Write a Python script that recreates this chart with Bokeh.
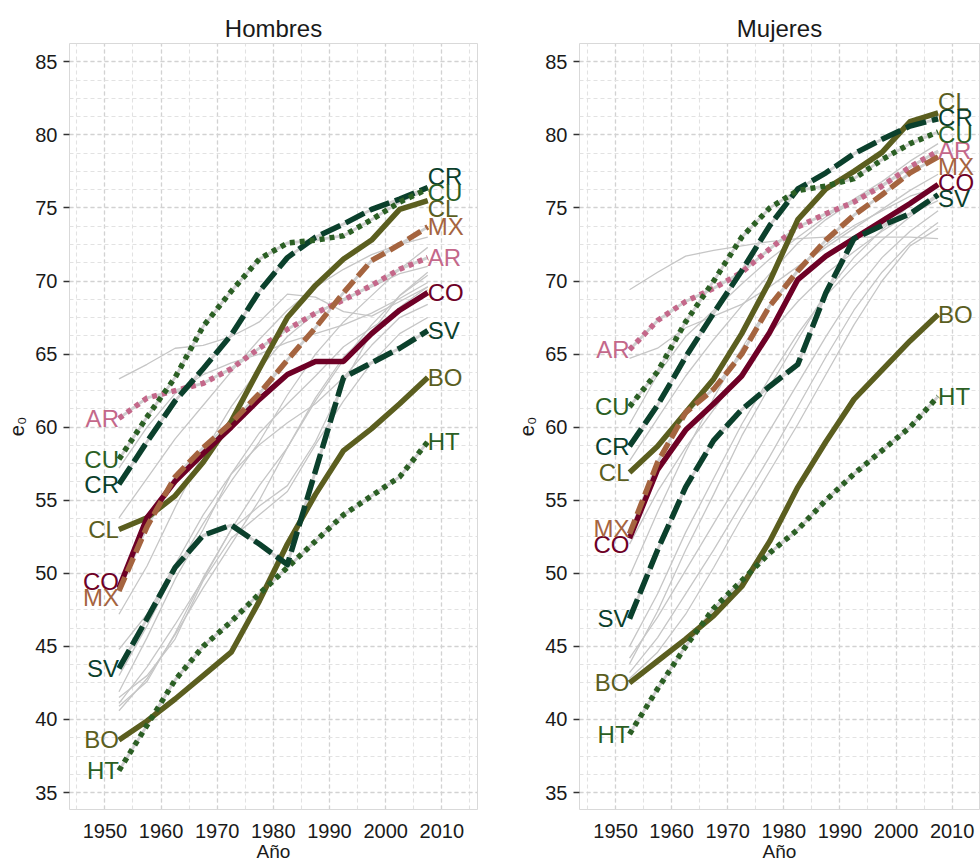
from bokeh.plotting import figure
from bokeh.layouts import row
from bokeh.models import Range1d, SingleIntervalTicker, ColumnDataSource
from bokeh.core.properties import value
from bokeh.embed import file_html
from bokeh.resources import INLINE

# ---------------- data ----------------
YEARS = [1952.5, 1957.5, 1962.5, 1967.5, 1972.5, 1977.5,
         1982.5, 1987.5, 1992.5, 1997.5, 2002.5, 2007.5]

PANELS = ["Hombres", "Mujeres"]
COUNTRIES = ["AR", "BO", "CL", "CO", "CR", "CU", "HT", "MX", "SV"]

# Hombres (men), e0 by period
H_AR = [60.6, 62.0, 62.5, 63.0, 64.0, 65.4, 66.7, 67.8, 68.7, 69.7, 70.8, 71.6]
H_BO = [38.6, 39.9, 41.4, 43.0, 44.6, 48.1, 52.0, 55.4, 58.4, 59.9, 61.6, 63.4]
H_CL = [53.0, 53.8, 55.3, 57.6, 60.4, 64.0, 67.5, 69.7, 71.5, 72.8, 74.9, 75.5]
H_CO = [49.0, 53.8, 56.3, 58.2, 60.0, 61.9, 63.6, 64.5, 64.5, 66.4, 68.0, 69.2]
H_CR = [56.1, 59.0, 61.8, 64.0, 66.3, 69.3, 71.6, 73.0, 73.9, 74.9, 75.6, 76.4]
H_CU = [57.8, 60.7, 63.4, 66.9, 69.3, 71.5, 72.6, 72.8, 73.1, 74.2, 75.4, 76.3]
H_HT = [36.5, 39.6, 42.7, 45.0, 46.7, 48.6, 50.4, 52.2, 54.0, 55.3, 56.6, 59.0]
H_MX = [48.8, 53.2, 56.6, 58.6, 60.3, 62.3, 64.6, 66.8, 69.2, 71.4, 72.5, 73.7]
H_SV = [43.5, 46.9, 50.4, 52.6, 53.3, 52.0, 50.6, 57.0, 63.4, 64.4, 65.4, 66.6]

# Mujeres (women), e0 by period
M_AR = [65.3, 67.3, 68.6, 69.5, 70.6, 72.2, 73.7, 74.6, 75.4, 76.5, 77.8, 78.9]
M_BO = [42.5, 44.0, 45.5, 47.1, 49.1, 52.2, 55.9, 59.0, 61.9, 63.9, 65.9, 67.7]
M_CL = [56.9, 58.7, 61.0, 63.3, 66.4, 70.0, 74.2, 76.3, 77.5, 78.8, 80.9, 81.5]
M_CO = [52.4, 57.1, 59.8, 61.6, 63.5, 66.5, 70.1, 71.7, 72.9, 74.1, 75.3, 76.6]
M_CR = [58.7, 61.5, 64.8, 67.8, 70.7, 73.8, 76.3, 77.4, 78.7, 79.7, 80.6, 81.1]
M_CU = [61.4, 63.8, 67.2, 70.0, 73.0, 75.0, 76.2, 76.5, 77.0, 78.3, 79.4, 80.2]
M_HT = [39.0, 42.1, 45.0, 47.6, 49.5, 51.4, 53.0, 55.0, 56.8, 58.4, 60.0, 62.1]
M_MX = [52.7, 57.6, 61.0, 62.6, 65.0, 68.3, 70.7, 72.8, 74.5, 75.9, 77.4, 78.5]
M_SV = [46.9, 51.6, 55.9, 59.1, 61.2, 62.8, 64.3, 69.2, 72.9, 73.8, 74.6, 75.9]

# other countries (grey background lines)
H_G01 = [63.3, 64.3, 65.4, 65.6, 66.2, 67.2, 69.1, 68.9, 67.9, 67.6, 68.6, 69.6]
H_G02 = [57.2, 60.0, 62.3, 63.6, 64.4, 65.0, 65.8, 66.4, 67.0, 67.8, 68.8, 69.9]
H_G03 = [53.8, 56.5, 59.2, 61.5, 63.8, 66.0, 68.0, 69.6, 70.8, 71.8, 72.5, 73.0]
H_G04 = [47.2, 50.5, 54.5, 58.2, 61.4, 64.0, 66.2, 67.8, 68.8, 69.6, 70.5, 71.0]
H_G05 = [44.8, 47.2, 50.6, 54.0, 56.8, 58.8, 60.3, 61.6, 63.4, 65.6, 67.5, 68.4]
H_G06 = [43.0, 46.4, 50.2, 53.4, 56.3, 59.0, 62.2, 65.0, 67.2, 69.0, 70.8, 72.3]
H_G07 = [41.9, 45.6, 49.6, 53.0, 56.8, 59.6, 61.6, 63.5, 65.5, 66.8, 68.0, 69.4]
H_G08 = [41.1, 43.6, 46.5, 49.6, 53.0, 56.0, 58.6, 61.8, 64.6, 67.0, 69.0, 70.6]
H_G09 = [41.5, 43.0, 45.5, 49.5, 52.4, 54.0, 55.6, 58.8, 61.8, 64.4, 66.4, 67.5]
H_G10 = [40.6, 42.8, 45.8, 49.0, 52.0, 55.0, 58.6, 62.0, 64.8, 66.6, 68.2, 69.6]
H_G11 = [40.9, 42.6, 45.9, 49.7, 53.0, 54.6, 56.0, 59.0, 63.0, 66.5, 69.0, 70.4]

M_G01 = [69.4, 70.6, 71.7, 72.1, 72.4, 72.7, 72.9, 73.0, 73.0, 73.0, 73.0, 72.9]
M_G02 = [64.7, 65.4, 66.8, 67.6, 68.4, 69.6, 71.0, 72.3, 73.6, 74.9, 76.2, 77.3]
M_G03 = [60.2, 63.6, 66.2, 68.0, 69.8, 71.5, 73.0, 74.4, 75.6, 76.8, 78.2, 79.4]
M_G04 = [57.7, 60.6, 63.5, 66.0, 68.3, 70.5, 72.6, 74.2, 75.5, 76.6, 77.8, 78.8]
M_G05 = [49.8, 54.2, 58.3, 62.0, 65.4, 68.4, 70.8, 72.5, 73.8, 74.8, 75.8, 76.4]
M_G06 = [45.0, 48.6, 52.8, 56.5, 60.2, 63.4, 66.4, 69.0, 71.0, 72.8, 74.4, 75.8]
M_G07 = [43.8, 47.4, 51.6, 55.4, 59.4, 62.8, 66.0, 69.2, 71.6, 73.5, 75.2, 76.5]
M_G08 = [43.2, 45.6, 48.6, 51.6, 54.8, 58.0, 61.4, 64.8, 68.0, 70.6, 72.6, 74.0]
M_G09 = [42.8, 44.6, 47.2, 50.4, 53.8, 57.0, 60.2, 63.6, 67.0, 70.0, 72.4, 73.6]
M_G10 = [44.2, 47.0, 50.2, 53.4, 56.6, 59.8, 63.0, 66.2, 69.2, 71.6, 73.4, 74.8]
M_G11 = [52.0, 55.6, 58.6, 61.2, 63.8, 66.4, 68.6, 70.5, 72.0, 73.4, 74.6, 75.5]

# ---------------- styling ----------------
FONT = "Liberation Sans"
OLIVE = "#5b5e1f"
DKGREEN = "#0b402c"
GREEN = "#2b5f24"
WINE = "#6e0026"
BROWN = "#a5643f"
PINK = "#c4688a"
DOT = "5 5"
LONG = "21 6"
MID = "15 6"
STYLE = {
    "AR": (PINK, DOT), "BO": (OLIVE, None), "CL": (OLIVE, None),
    "CO": (WINE, None), "CR": (DKGREEN, LONG), "CU": (GREEN, DOT),
    "HT": (GREEN, DOT), "MX": (BROWN, MID), "SV": (DKGREEN, LONG),
}

SERIES = {
    "Hombres": dict(zip(COUNTRIES, [H_AR, H_BO, H_CL, H_CO, H_CR, H_CU, H_HT, H_MX, H_SV])),
    "Mujeres": dict(zip(COUNTRIES, [M_AR, M_BO, M_CL, M_CO, M_CR, M_CU, M_HT, M_MX, M_SV])),
}
GREYS = {
    "Hombres": [H_G01, H_G02, H_G03, H_G04, H_G05, H_G06, H_G07, H_G08, H_G09, H_G10, H_G11],
    "Mujeres": [M_G01, M_G02, M_G03, M_G04, M_G05, M_G06, M_G07, M_G08, M_G09, M_G10, M_G11],
}


def spread(vals, gap, iters=300):
    idx = sorted(range(len(vals)), key=lambda i: vals[i])
    pos = [vals[i] for i in idx]
    for _ in range(iters):
        moved = False
        for k in range(len(pos) - 1):
            d = pos[k + 1] - pos[k]
            if d < gap - 1e-9:
                s = (gap - d) / 2.0
                pos[k] -= s
                pos[k + 1] += s
                moved = True
        if not moved:
            break
    out = [0.0] * len(vals)
    for k, i in enumerate(idx):
        out[i] = pos[k]
    return out


def panel(name, xr, frame_w, left, right):
    p = figure(title=name, frame_width=frame_w, frame_height=766,
               x_range=Range1d(*xr), y_range=Range1d(33.84, 86.25),
               output_backend="svg", toolbar_location=None,
               min_border_left=left, min_border_right=right,
               min_border_top=43, min_border_bottom=51,
               background_fill_color="white", border_fill_color="white",
               outline_line_color="#d9d9d9", outline_line_width=1)
    p.title.text_font = FONT
    p.title.text_font_size = "24px"
    p.title.text_font_style = "normal"
    p.title.align = "center"
    p.title.text_color = "#1a1a1a"
    p.title.standoff = 4

    xt = SingleIntervalTicker(interval=10, num_minor_ticks=2)
    yt = SingleIntervalTicker(interval=5, num_minor_ticks=4)
    p.xaxis.ticker = xt
    p.yaxis.ticker = yt
    p.xgrid.ticker = xt
    p.ygrid.ticker = yt
    for g in (p.xgrid, p.ygrid):
        g.grid_line_color = "#d2d2d2"
        g.grid_line_dash = "4 3"
        g.grid_line_width = 1.3
        g.minor_grid_line_color = "#e2e2e2"
        g.minor_grid_line_dash = "4 3"
        g.minor_grid_line_width = 1.1

    for ax in (p.xaxis, p.yaxis):
        ax.axis_line_color = None
        ax.minor_tick_line_color = None
        ax.major_label_text_font = FONT
        ax.major_label_text_font_size = "20px"
        ax.major_label_text_color = "#1a1a1a"
        ax.axis_label_text_font = FONT
        ax.axis_label_text_font_size = "19px"
        ax.axis_label_text_font_style = "normal"
        ax.axis_label_text_color = "#1a1a1a"
    p.xaxis.major_tick_line_color = None
    p.xaxis.major_tick_out = 0
    p.xaxis.major_tick_in = 0
    p.xaxis.major_label_standoff = 10
    p.xaxis.axis_label = "Año"
    p.xaxis.axis_label_standoff = 0
    p.yaxis.major_tick_out = 6
    p.yaxis.major_tick_in = 0
    p.yaxis.major_tick_line_color = "#333333"
    p.yaxis.major_tick_line_width = 1.5
    p.yaxis.major_label_standoff = 6
    p.yaxis.axis_label = "e₀"
    p.yaxis.axis_label_text_font_size = "20px"
    p.yaxis.axis_label_standoff = 4

    greys = GREYS[name] + [SERIES[name][c] for c in COUNTRIES]
    p.multi_line([YEARS] * len(greys), greys, line_color="#c6c6c6", line_width=1.3)
    for c in COUNTRIES:
        p.line(YEARS, SERIES[name][c], line_color="#cfcfcf", line_width=2.8)

    for c in COUNTRIES:
        col, dash = STYLE[c]
        kw = dict(line_color=col, line_width=5.5, line_join="round")
        if dash:
            kw["line_dash"] = dash
            kw["line_cap"] = "butt"
        p.line(YEARS, SERIES[name][c], **kw)

    starts = [SERIES[name][c][0] for c in COUNTRIES]
    ends = [SERIES[name][c][-1] for c in COUNTRIES]
    ys0 = spread(starts, 1.1)
    ys1 = spread(ends, 1.1)
    cols = [STYLE[c][0] for c in COUNTRIES]
    src0 = ColumnDataSource(dict(x=[YEARS[0]] * len(COUNTRIES), y=ys0, t=COUNTRIES, c=cols))
    src1 = ColumnDataSource(dict(x=[YEARS[-1]] * len(COUNTRIES), y=ys1, t=COUNTRIES, c=cols))
    p.text(x="x", y="y", text="t", text_color="c", source=src0, text_align="right",
           text_baseline="middle", text_font=value(FONT), text_font_size="24px")
    p.text(x="x", y="y", text="t", text_color="c", source=src1, text_align="left",
           text_baseline="middle", text_font=value(FONT), text_font_size="24px")
    return p


left = panel("Hombres", (1943.69, 2016.36), 408, 69, 32)
right = panel("Mujeres", (1943.58, 2014.88), 400, 70, 1)

layout = row(left, right)
open("out.html", "w").write(file_html(layout, INLINE))
